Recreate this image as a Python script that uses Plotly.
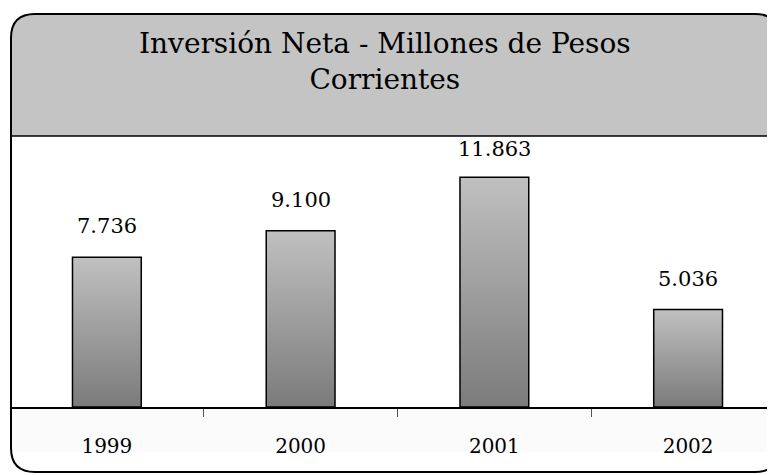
import plotly.graph_objects as go

years = ["1999", "2000", "2001", "2002"]
values = [7.736, 9.100, 11.863, 5.036]
value_labels = ["7.736", "9.100", "11.863", "5.036"]

OFF = 8                      # page body margin in the browser
W, H = 775 - OFF, 475 - OFF  # figure size
L = 10 - OFF                 # plot area left edge (window px 10)
T = 136 - OFF                # plot area top (window px 136)
B = H - (407 - OFF)          # axis sits at window px 407
R = 0
PW, PH = W - L - R, H - T - B
Y_MAX = 14
BAR_W = 0.355
FONT = "DejaVu Serif"


# helpers take window pixel coords and return paper coords
def px_x(px):
    return (px - OFF - L) / PW


def px_y(py):
    return (H - B - (py - OFF)) / PH


fig = go.Figure()

# bars drawn as filled polygons so they can carry a vertical gradient
for i, v in enumerate(values):
    x0, x1 = i - BAR_W / 2, i + BAR_W / 2
    fig.add_trace(go.Scatter(
        x=[x0, x0, x1, x1, x0], y=[0, v, v, 0, 0],
        mode="lines", fill="toself",
        line=dict(color="black", width=1.5),
        fillgradient=dict(type="vertical",
                          colorscale=[[0, "#7b7b7b"], [1, "#c0c0c0"]]),
        hoverinfo="skip", showlegend=False,
    ))

annotations = [dict(
    text="Inversión Neta - Millones de Pesos<br>Corrientes",
    xref="paper", yref="paper", x=px_x(385), y=px_y(62),
    xanchor="center", yanchor="middle", showarrow=False,
    font=dict(family=FONT, size=28, color="black"),
)]
LABEL_H = 27
for i, (v, lab) in enumerate(zip(values, value_labels)):
    # keep the label inside the plot area, like the original does
    room = (Y_MAX - v) * PH / Y_MAX - LABEL_H
    annotations.append(dict(
        x=i, y=v, text=lab, showarrow=False,
        xanchor="center", yanchor="bottom", yshift=min(17, room),
        font=dict(family=FONT, size=21, color="black"),
    ))


def rounded_path(x0, y0, x1, y1, r):
    return (f"M {px_x(x0):.5f} {px_y(y0 + r):.5f} "
            f"Q {px_x(x0):.5f} {px_y(y0):.5f} {px_x(x0 + r):.5f} {px_y(y0):.5f} "
            f"L {px_x(x1 - r):.5f} {px_y(y0):.5f} "
            f"Q {px_x(x1):.5f} {px_y(y0):.5f} {px_x(x1):.5f} {px_y(y0 + r):.5f} "
            f"L {px_x(x1):.5f} {px_y(y1 - r):.5f} "
            f"Q {px_x(x1):.5f} {px_y(y1):.5f} {px_x(x1 - r):.5f} {px_y(y1):.5f} "
            f"L {px_x(x0 + r):.5f} {px_y(y1):.5f} "
            f"Q {px_x(x0):.5f} {px_y(y1):.5f} {px_x(x0):.5f} {px_y(y1 - r):.5f} Z")


def band_path(x0, y0, x1, y1, r):
    # top corners rounded, bottom square
    return (f"M {px_x(x0):.5f} {px_y(y1):.5f} "
            f"L {px_x(x0):.5f} {px_y(y0 + r):.5f} "
            f"Q {px_x(x0):.5f} {px_y(y0):.5f} {px_x(x0 + r):.5f} {px_y(y0):.5f} "
            f"L {px_x(x1 - r):.5f} {px_y(y0):.5f} "
            f"Q {px_x(x1):.5f} {px_y(y0):.5f} {px_x(x1):.5f} {px_y(y0 + r):.5f} "
            f"L {px_x(x1):.5f} {px_y(y1):.5f} Z")


shapes = [
    dict(type="path", xref="paper", yref="paper", layer="below",
         path=band_path(11, 14, 779, 136, 24),
         fillcolor="#c4c4c4", line=dict(width=0)),
    dict(type="rect", xref="paper", yref="paper", layer="below",
         x0=px_x(12), x1=px_x(776), y0=px_y(408), y1=px_y(452),
         fillcolor="#fbfbfb", line=dict(width=0)),
    dict(type="line", xref="paper", yref="paper",
         x0=px_x(11), x1=px_x(779), y0=px_y(136), y1=px_y(136),
         line=dict(color="black", width=1.5)),
    dict(type="path", xref="paper", yref="paper",
         path=rounded_path(11, 14, 779, 472, 24),
         line=dict(color="black", width=2)),
]

fig.update_layout(
    width=W, height=H,
    margin=dict(l=L, r=R, t=T, b=B, pad=0),
    paper_bgcolor="white", plot_bgcolor="rgba(0,0,0,0)",
    shapes=shapes,
    annotations=annotations,
    xaxis=dict(
        range=[-0.5, 3 + 87 / 194], tickmode="array",
        tickvals=list(range(len(years))), ticktext=years,
        ticks="", showgrid=False, zeroline=False,
        showline=True, linecolor="black", linewidth=1.5,
        tickfont=dict(family=FONT, size=20, color="black"),
        ticklabelstandoff=20,
        minor=dict(tickmode="array", tickvals=[0.5, 1.5, 2.5],
                   ticks="outside", ticklen=8, tickcolor="#555", tickwidth=1),
        fixedrange=True,
    ),
    yaxis=dict(range=[0, Y_MAX], visible=False, fixedrange=True),
    showlegend=False,
)

fig.write_html("out.html")
